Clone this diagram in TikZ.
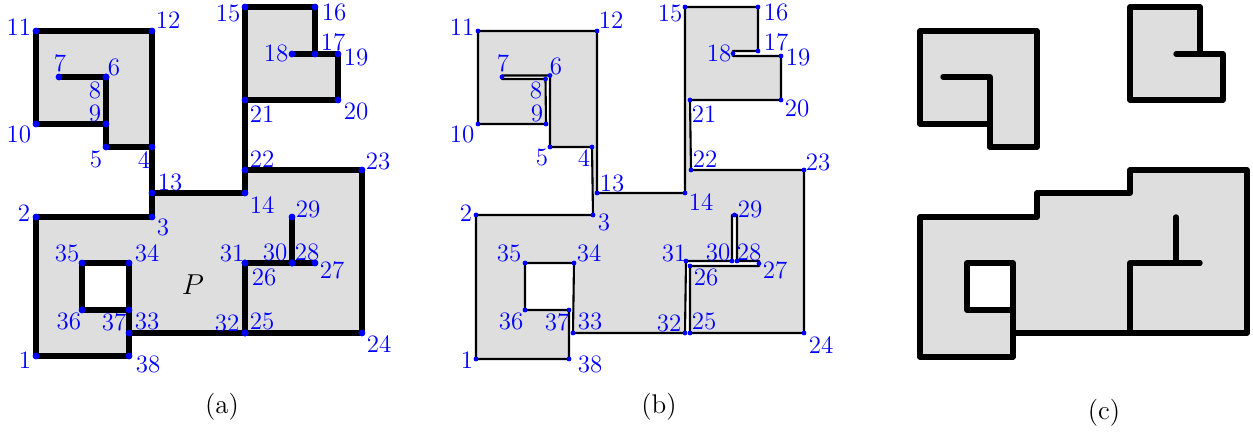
\documentclass[tikz,border=0pt]{standalone}
\definecolor{regiongray}{gray}{0.87}
\definecolor{vertexblue}{rgb}{0,0,1}
\newcommand{\polypath}[1]{(#11)--(#12)--(#13)--(#14)--(#15)--(#16)--(#17)--(#18)--(#19)--(#110)--(#111)--(#112)--(#113)--(#114)--(#115)--(#116)--(#117)--(#118)--(#119)--(#120)--(#121)--(#122)--(#123)--(#124)--(#125)--(#126)--(#127)--(#128)--(#129)--(#130)--(#131)--(#132)--(#133)--(#134)--(#135)--(#136)--(#137)--(#138)--cycle}
\newcommand{\polypathb}{(b1)--(b2)--(b3)--(b4)--(b5)--(b6)--(b7u)--(b7l)--(b8)--(b9)--(b10)--(b11)--(b12)--(b13)--(b14)--(b15)--(b16)--(b17)--(b18u)--(b18l)--(b19)--(b20)--(b21)--(b22)--(b23)--(b24)--(b25)--(b26)--(b27l)--(b27u)--(b28)--(b29r)--(b29l)--(b30)--(b31)--(b32)--(b33)--(b34)--(b35)--(b36)--(b37)--(b38)--cycle}
\tikzset{
  thickedge/.style={draw=black,line width=2.7pt,line join=round,line cap=round},
  thinedge/.style={draw=black,line width=1.05pt,line join=round},
  region/.style={fill=regiongray,draw=regiongray!60!black,line width=0.5pt,line join=round},
  vlabel/.style={text=vertexblue,inner sep=0pt,font=\fontsize{12.5}{15}\selectfont},
  caption/.style={inner sep=0pt,font=\fontsize{13.5}{16}\selectfont},
  adot/.style={fill=vertexblue},
}
\begin{document}
\begin{tikzpicture}[x=0.5pt,y=-0.5pt]
\useasboundingbox (0,0) rectangle (1253,432);
% ---------- panel (a)
\foreach \n/\x/\y in {
1/36/356,2/36/217,3/152/217,4/152/147,5/106/147,
6/106/77,7/59/77,8/106/77,9/106/124,10/36/124,
11/36/31,12/152/31,13/152/193,14/245/193,15/245/7,
16/315/7,17/315/54,18/292/54,19/338/54,20/338/100,
21/245/100,22/245/170,23/362/170,24/362/333,25/245/333,
26/245/263,27/315/263,28/292/263,29/292/217,30/292/263,
31/245/263,32/245/333,33/129/333,34/129/263,35/82/263,
36/82/310,37/129/310,38/129/356}{
  \coordinate (a\n) at (\x,\y);
}
\path[region] \polypath{a};
\path[thickedge] \polypath{a};
\foreach \n in {1,...,38}{\fill[adot] (a\n) circle[radius=3.4];}
\foreach \n/\lx/\ly in {
1/25/360,2/24/213,3/163/227,4/144/160,5/96/159,6/114/67,7/60/63,8/95/90,9/95/113,10/19/134,
11/19/27,12/168/20,13/170/182,14/262/205,15/228/13,16/334/12,17/333/42,18/276/53,19/356/57,20/356/111,
21/262/114,22/262/159,23/378/161,24/379/344,25/262/321,26/264/277,27/332/270,28/307/252,29/308/209,30/275/252,
31/232/253,32/227/323,33/147/321,34/147/253,35/67/253,36/69/321,37/114/322,38/148/364}{
  \node[vlabel] (la\n) at (\lx,\ly) {\n};
}
\node[inner sep=0pt,font=\fontsize{14.5}{16}\selectfont] (labelP) at (193,285) {$P$};
\node[caption] (capa) at (222,407) {(a)};
% ---------- panel (b)
\foreach \n/\x/\y in {
1/476/359,2/476/215,3/593/215,4/592/147,5/550/147,
6/550/75.5,7/502/77,8/545.5/79,9/546/124,10/478/124,
11/478/31,12/597/31,13/597/193,14/685/193,15/685/7,
16/758/7,17/758/51,18/733/53.5,19/781/56,20/781/100,
21/690/100,22/691/170,23/804/170,24/804/333,25/690/333,
26/690/266,27/759/263.5,28/737/261,29/734.5/215,30/732/261,
31/686/261,32/685/333,33/573/333,34/574/263,35/525/263,
36/525/310,37/569/310,38/569/359}{
  \coordinate (b\n) at (\x,\y);
}
\coordinate (b7u) at (502,75.5); \coordinate (b7l) at (502,79);
\coordinate (b18u) at (733,51); \coordinate (b18l) at (733,56);
\coordinate (b27u) at (759,261); \coordinate (b27l) at (759,266);
\coordinate (b29r) at (737,215); \coordinate (b29l) at (732,215);
\path[region] \polypathb;
\path[thinedge] \polypathb;
\foreach \n in {1,...,38}{\fill[adot] (b\n) circle[radius=2.4];}
\foreach \n/\lx/\ly in {
1/467/360,2/466/213,3/604/222,4/584/158,5/542/157,6/556/66,7/503/63,8/536/90,9/537/113,10/462/134,
11/462/27,12/611/20,13/612/183,14/701/202,15/670/13,16/776/12,17/776/42,18/719/53,19/798/57,20/797/108,
21/704/114,22/705/159,23/818/162,24/821/345,25/704/321,26/706/277,27/775/270,28/749/252,29/750/209,30/718/252,
31/674/253,32/669/323,33/590/321,34/589/253,35/509/253,36/511/321,37/557/322,38/590/364}{
  \node[vlabel] (lb\n) at (\lx,\ly) {\n};
}
\node[caption] (capb) at (659,407) {(b)};
% ---------- panel (c)
\coordinate (c1) at (920,31);  \coordinate (c2) at (1037,31);  \coordinate (c3) at (1037,147);
\coordinate (c4) at (990,147); \coordinate (c5) at (990,77);   \coordinate (c6) at (943,77);
\coordinate (c7) at (920,124); \coordinate (c8) at (990,124);
\filldraw[region,thickedge] (c1)--(c2)--(c3)--(c4)--(c8)--(c7)--cycle;
\draw[thickedge] (c4)--(c5)--(c6);
\coordinate (d1) at (1130,7);  \coordinate (d2) at (1200,7);   \coordinate (d3) at (1200,54);
\coordinate (d4) at (1223,54); \coordinate (d5) at (1223,100); \coordinate (d6) at (1130,100);
\coordinate (d7) at (1176,54);
\filldraw[region,thickedge] (d1)--(d2)--(d3)--(d4)--(d5)--(d6)--cycle;
\draw[thickedge] (d3)--(d7);
\coordinate (e1) at (920,217);  \coordinate (e2) at (1037,217); \coordinate (e3) at (1037,193);
\coordinate (e4) at (1130,193); \coordinate (e5) at (1130,170); \coordinate (e6) at (1247,170);
\coordinate (e7) at (1247,333); \coordinate (e8) at (1013,333); \coordinate (e9) at (1013,357);
\coordinate (e10) at (920,357);
\coordinate (h1) at (967,263);  \coordinate (h2) at (1013,263); \coordinate (h3) at (1013,310);
\coordinate (h4) at (967,310);
\coordinate (i1) at (1130,333); \coordinate (i2) at (1130,263); \coordinate (i3) at (1200,263);
\coordinate (i4) at (1176,217); \coordinate (i5) at (1176,263);
\filldraw[region,thickedge,even odd rule] (e1)--(e2)--(e3)--(e4)--(e5)--(e6)--(e7)--(e8)--(e9)--(e10)--cycle
  (h1)--(h2)--(h3)--(h4)--cycle;
\draw[thickedge] (h3)--(e8);
\draw[thickedge] (i1)--(i2)--(i3);
\draw[thickedge] (i4)--(i5);
\node[caption] (capc) at (1104,413) {(c)};
\end{tikzpicture}
\end{document}
